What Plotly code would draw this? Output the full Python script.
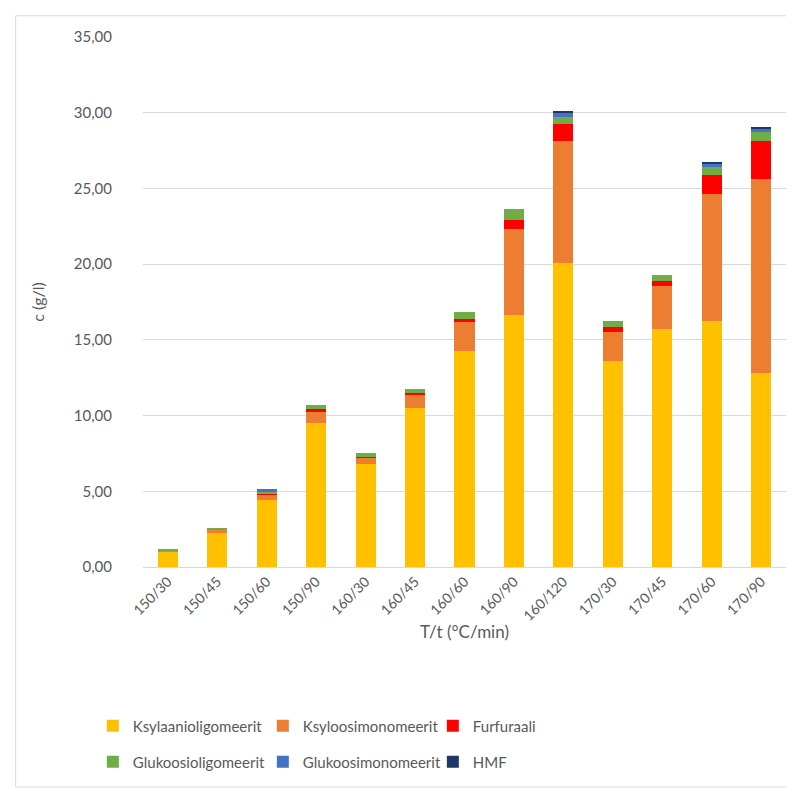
import plotly.graph_objects as go

categories = ["150/30", "150/45", "150/60", "150/90", "160/30", "160/45", "160/60",
              "160/90", "160/120", "170/30", "170/45", "170/60", "170/90"]

ksylaanioligomeerit = [1.00, 2.25, 4.42, 9.53, 6.80, 10.52, 14.25, 16.65, 20.10, 13.63, 15.70, 16.25, 12.80]
ksyloosimonomeerit = [0.10, 0.20, 0.35, 0.73, 0.42, 0.84, 1.90, 5.68, 8.04, 1.92, 2.85, 8.37, 12.80]
furfuraali = [0.00, 0.02, 0.03, 0.16, 0.07, 0.11, 0.22, 0.59, 1.10, 0.29, 0.35, 1.27, 2.55]
glukoosioligomeerit = [0.12, 0.13, 0.20, 0.28, 0.22, 0.29, 0.44, 0.71, 0.45, 0.42, 0.40, 0.55, 0.55]
glukoosimonomeerit = [0.00, 0.00, 0.13, 0.00, 0.00, 0.00, 0.00, 0.00, 0.33, 0.00, 0.00, 0.20, 0.20]
hmf = [0.00, 0.00, 0.00, 0.00, 0.00, 0.00, 0.00, 0.00, 0.05, 0.00, 0.00, 0.06, 0.15]

y_ticks = [0, 5, 10, 15, 20, 25, 30, 35]

series = [
    ("Ksylaanioligomeerit", ksylaanioligomeerit, "#FFC000", "legend"),
    ("Ksyloosimonomeerit", ksyloosimonomeerit, "#ED7D31", "legend"),
    ("Furfuraali", furfuraali, "#FF0000", "legend"),
    ("Glukoosioligomeerit", glukoosioligomeerit, "#70AD47", "legend2"),
    ("Glukoosimonomeerit", glukoosimonomeerit, "#4472C4", "legend2"),
    ("HMF", hmf, "#1F3864", "legend2"),
]

font_color = "#595959"
grid_color = "#D9D9D9"

fig = go.Figure()
for name, vals, color, leg in series:
    fig.add_trace(go.Bar(
        x=categories, y=vals, name=name,
        marker=dict(color=color, line=dict(width=0)),
        legend=leg,
    ))

legend_style = dict(
    orientation="h", xanchor="left", yanchor="middle",
    font=dict(family="Lato", size=15, color=font_color),
    entrywidth=125, entrywidthmode="pixels",
    itemwidth=30, bgcolor="rgba(0,0,0,0)",
    traceorder="normal",
)

fig.update_layout(
    width=794, height=788,
    barmode="stack", bargap=0.595,
    separators=",.",
    paper_bgcolor="white", plot_bgcolor="white",
    margin=dict(l=135, r=16, t=29, b=229),
    font=dict(family="Lato", size=15, color=font_color),
    xaxis=dict(
        tickangle=-45, showgrid=False, showline=True, linecolor=grid_color,
        tickfont=dict(size=14, color=font_color),
        title=dict(text="T/t (°C/min)", font=dict(size=17, color=font_color), standoff=3),
    ),
    yaxis=dict(
        range=[0, 35], tickvals=y_ticks, tickformat=".2f",
        showgrid=True, gridcolor=grid_color, gridwidth=1, zeroline=False,
        tickfont=dict(size=15, color=font_color), ticklabelstandoff=30,
        title=dict(text="c (g/l)", font=dict(size=16, color=font_color), standoff=25),
    ),
    legend=dict(legend_style, x=-0.078, y=-0.300),
    legend2=dict(legend_style, x=-0.078, y=-0.368),
    shapes=[dict(
        type="rect", xref="paper", yref="paper",
        x0=-0.198, x1=1.02, y0=-0.415, y1=1.040,
        line=dict(color=grid_color, width=1), fillcolor="rgba(0,0,0,0)", layer="below",
    )],
)

fig.write_html("out.html")
